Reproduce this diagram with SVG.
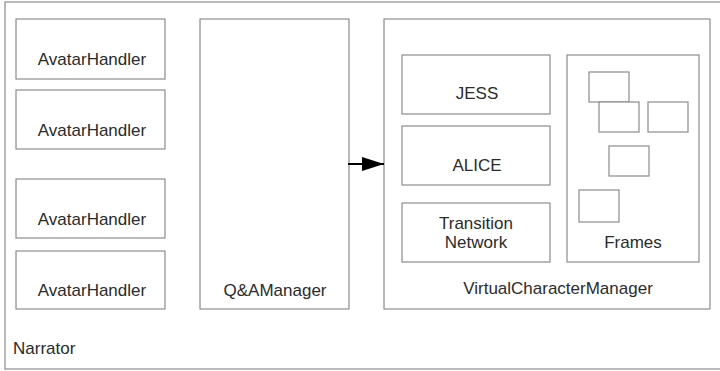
<svg xmlns="http://www.w3.org/2000/svg" width="720" height="371" viewBox="0 0 720 371">
  <defs>
    <style>
      .box { fill: #ffffff; stroke: #8c8c8c; stroke-width: 1.2; }
      .lbl { font-family: "Liberation Sans", Arial, sans-serif; font-size: 17px; fill: #2b2b2b; text-anchor: middle; }
      .left { text-anchor: start; }
      .link { stroke: #000000; stroke-width: 2; fill: none; }
    </style>
    <marker id="arrowhead" markerWidth="22" markerHeight="14" refX="22" refY="7" orient="auto" markerUnits="userSpaceOnUse">
      <path d="M0,0 L22,7 L0,14 Z" fill="#000000"/>
    </marker>
  </defs>

  <rect width="720" height="371" fill="#ffffff"/>

  <!-- outer container -->
  <g id="narrator">
    <rect class="box" x="5" y="2" width="730" height="367"/>
    <text class="lbl left" x="13" y="354">Narrator</text>
  </g>

  <!-- avatar handlers -->
  <g id="avatar1">
    <rect class="box" x="16" y="19" width="149" height="60"/>
    <text class="lbl" x="92" y="65">AvatarHandler</text>
  </g>
  <g id="avatar2">
    <rect class="box" x="16" y="90" width="149" height="59"/>
    <text class="lbl" x="92" y="136">AvatarHandler</text>
  </g>
  <g id="avatar3">
    <rect class="box" x="16" y="179" width="149" height="59"/>
    <text class="lbl" x="92" y="225">AvatarHandler</text>
  </g>
  <g id="avatar4">
    <rect class="box" x="16" y="251" width="149" height="58"/>
    <text class="lbl" x="92" y="296">AvatarHandler</text>
  </g>

  <!-- question/answer manager -->
  <g id="qamanager">
    <rect class="box" x="200" y="19" width="149" height="290"/>
    <text class="lbl" x="275" y="296">Q&amp;AManager</text>
  </g>

  <!-- virtual character manager -->
  <g id="vcmanager">
    <rect class="box" x="384" y="19" width="326" height="290"/>
    <text class="lbl" x="558" y="294">VirtualCharacterManager</text>
  </g>

  <g id="jess">
    <rect class="box" x="402" y="55" width="148" height="59"/>
    <text class="lbl" x="477" y="99">JESS</text>
  </g>
  <g id="alice">
    <rect class="box" x="402" y="126" width="148" height="59"/>
    <text class="lbl" x="477" y="171">ALICE</text>
  </g>
  <g id="transition">
    <rect class="box" x="402" y="203" width="148" height="59"/>
    <text class="lbl" x="476" y="229">Transition</text>
    <text class="lbl" x="476" y="248">Network</text>
  </g>

  <g id="frames">
    <rect class="box" x="567" y="55" width="132" height="207"/>
    <rect class="box" x="589" y="72" width="40" height="30"/>
    <rect class="box" x="599" y="102" width="40" height="30"/>
    <rect class="box" x="648" y="102" width="40" height="30"/>
    <rect class="box" x="609" y="146" width="40" height="30"/>
    <rect class="box" x="579" y="190" width="40" height="32"/>
    <text class="lbl" x="633" y="248">Frames</text>
  </g>

  <!-- connectors -->
  <g id="connectors">
    <line class="link" x1="348" y1="164" x2="384" y2="164" marker-end="url(#arrowhead)"/>
  </g>
</svg>
